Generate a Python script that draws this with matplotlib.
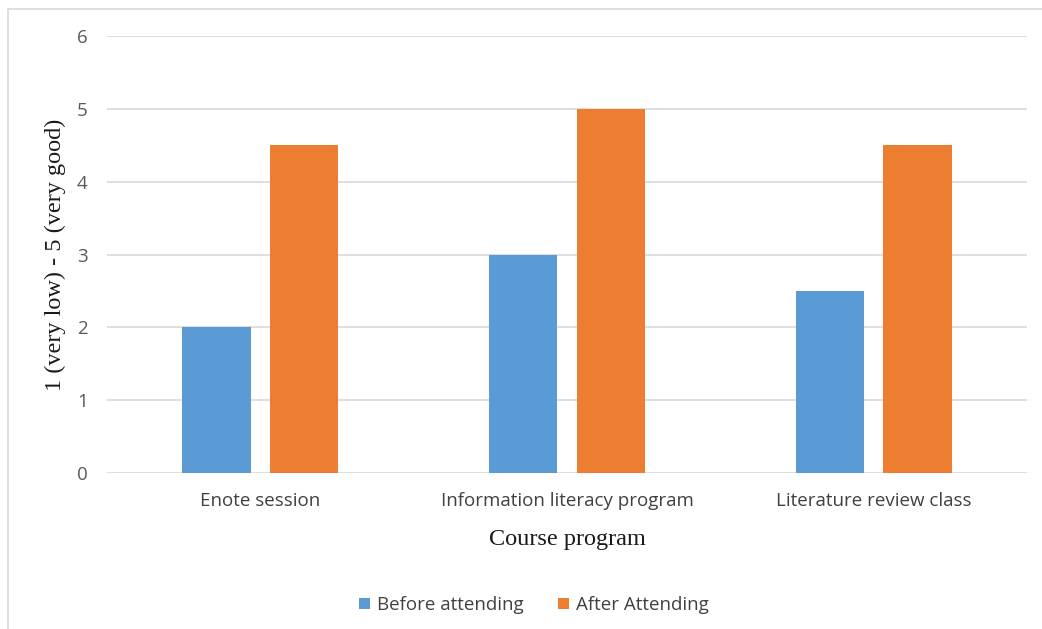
import matplotlib.pyplot as plt
from matplotlib.patches import Rectangle
import numpy as np

# ratings per course, before and after attending
courses = ['Enote session', 'Information literacy program', 'Literature review class']
before = [2, 3, 2.5]
after = [4.5, 5, 4.5]
yticks = [0, 1, 2, 3, 4, 5, 6]

blue = '#5B9BD5'
orange = '#ED7D31'
grey_txt = '#595959'
sans = 'Open Sans'
serif = 'Liberation Serif'

fig = plt.figure(figsize=(10.42, 6.29), dpi=100)
ax = fig.add_axes([107/1042, 1 - 473/629, 920/1042, 437/629])

x = np.arange(len(courses))
w = 0.222
off = 0.143
ax.bar(x - off, before, w, color=blue, label='Before attending', zorder=3)
ax.bar(x + off, after, w, color=orange, label='After Attending', zorder=3)

ax.set_xlim(-0.5, 2.5)
ax.set_ylim(0, 6)
ax.set_yticks(yticks)
ax.grid(axis='y', color='#d9d9d9', linewidth=1.2, zorder=0)
for s in ax.spines.values():
    s.set_visible(False)
ax.tick_params(length=0)
ax.set_xticks(x)
ax.set_xticklabels(courses, fontsize=13.5, family=sans, color='#404040')
for t in ax.get_yticklabels():
    t.set_fontsize(13.5)
    t.set_family(sans)
    t.set_color(grey_txt)
ax.tick_params(axis='y', pad=14)
ax.tick_params(axis='x', pad=14)

ax.set_xlabel('Course program', family=serif, fontsize=17.5, color='#1a1a1a', labelpad=13)
ax.set_ylabel('1 (very low) - 5 (very good)', family=serif, fontsize=17.5,
              color='#1a1a1a', labelpad=8)

ax.legend(loc='upper center', bbox_to_anchor=(0.464, -0.243), ncol=2, frameon=False,
          prop={'family': sans, 'size': 13.5}, handlelength=0.6, handleheight=0.6,
          columnspacing=1.8, handletextpad=0.4, labelcolor='#404040')

# chart area border
fig.patches.append(Rectangle((8/1042, -0.1), 1.2, 1 - 9/629 + 0.1, transform=fig.transFigure,
                             fill=False, edgecolor='#d9d9d9', linewidth=1.2))

fig.savefig('out.png', dpi=100)
